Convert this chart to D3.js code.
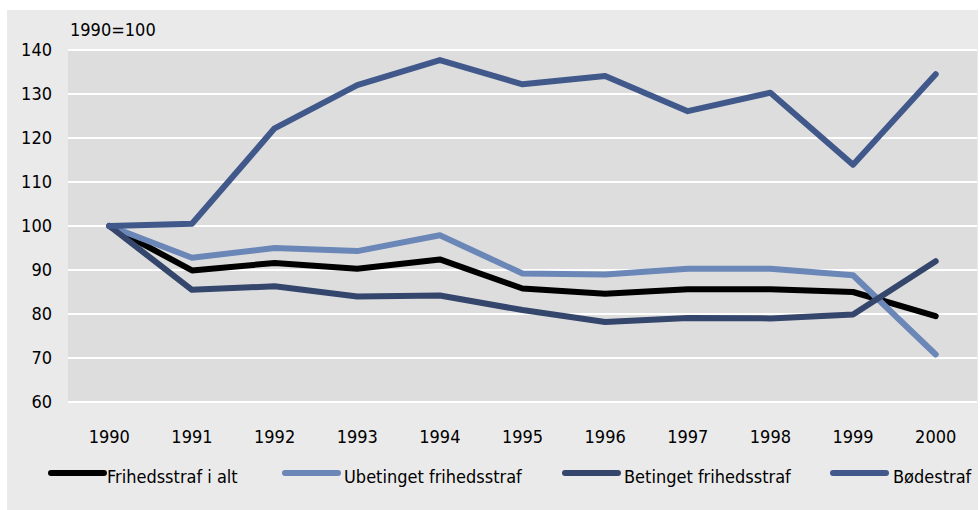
<!DOCTYPE html>
<html><head><meta charset="utf-8">
<script src="https://cdn.jsdelivr.net/npm/d3@7"></script>
<style>body{margin:0;background:#fff}svg{display:block}text{font-family:"DejaVu Sans Condensed","DejaVu Sans",sans-serif;font-stretch:condensed}</style>
</head><body><svg id="c" width="980" height="510"></svg>
<script>
const years = ["1990","1991","1992","1993","1994","1995","1996","1997","1998","1999","2000"];
const frihedsstrafIAlt = [100, 89.9, 91.6, 90.3, 92.4, 85.8, 84.6, 85.6, 85.6, 85.0, 79.5];
const ubetinget = [100, 92.8, 95.0, 94.3, 97.9, 89.2, 89.0, 90.3, 90.3, 88.8, 70.8];
const betinget = [100, 85.5, 86.3, 84.0, 84.2, 80.9, 78.2, 79.1, 79.0, 79.9, 92.0];
const bodestraf = [100, 100.5, 122.2, 132.0, 137.7, 132.2, 134.1, 126.1, 130.3, 113.9, 134.5];
const yTicks = [60, 70, 80, 90, 100, 110, 120, 130, 140];
const seriesNames = ["Frihedsstraf i alt", "Ubetinget frihedsstraf", "Betinget frihedsstraf", "Bødestraf"];
const seriesColors = ["#000000", "#6a87b8", "#34466c", "#41598a"];

const series = [frihedsstrafIAlt, ubetinget, betinget, bodestraf];
const svg = d3.select("#c");
svg.append("rect").attr("x",7).attr("y",10).attr("width",971).attr("height",500).attr("fill","#eaeaea");

const x = d3.scaleBand().domain(years).range([68, 977]);
const y = d3.scaleLinear().domain([60, 140]).range([402, 50]);

svg.append("rect").attr("x",68).attr("y",y(140)).attr("width",909).attr("height",y(60)-y(140)).attr("fill","#dddddd");

svg.append("g").selectAll("line").data(yTicks).join("line")
  .attr("x1",68).attr("x2",977).attr("y1",d=>y(d)).attr("y2",d=>y(d))
  .attr("stroke","#ffffff").attr("stroke-width",2);

const fs = 18;
svg.append("g").selectAll("text").data(yTicks).join("text")
  .attr("x",52).attr("y",d=>y(d)).attr("dy","0.36em").attr("text-anchor","end")
  .attr("font-size",fs).attr("fill","#000").text(d=>d);

svg.append("text").attr("x",70).attr("y",36).attr("font-size",fs).attr("fill","#000").text("1990=100");

svg.append("g").selectAll("text").data(years).join("text")
  .attr("x",d=>x(d)+x.bandwidth()/2).attr("y",443).attr("text-anchor","middle")
  .attr("font-size",fs).attr("fill","#000").text(d=>d);

const line = d3.line().x((d,i)=>x(years[i])+x.bandwidth()/2).y(d=>y(d));
series.forEach((s,k)=>{
  svg.append("path").attr("d",line(s)).attr("fill","none")
    .attr("stroke",seriesColors[k]).attr("stroke-width",6)
    .attr("stroke-linejoin","round").attr("stroke-linecap","round");
});

const legLineX = [51, 285, 565, 833];
const legTextX = [107, 344, 624, 893];
const lg = svg.append("g");
seriesNames.forEach((n,k)=>{
  lg.append("line").attr("x1",legLineX[k]).attr("x2",legLineX[k]+53).attr("y1",473).attr("y2",473)
    .attr("stroke",seriesColors[k]).attr("stroke-width",6).attr("stroke-linecap","round");
  lg.append("text").attr("x",legTextX[k]).attr("y",483)
    .attr("font-size",fs).attr("fill","#000").text(n);
});
</script></body></html>
